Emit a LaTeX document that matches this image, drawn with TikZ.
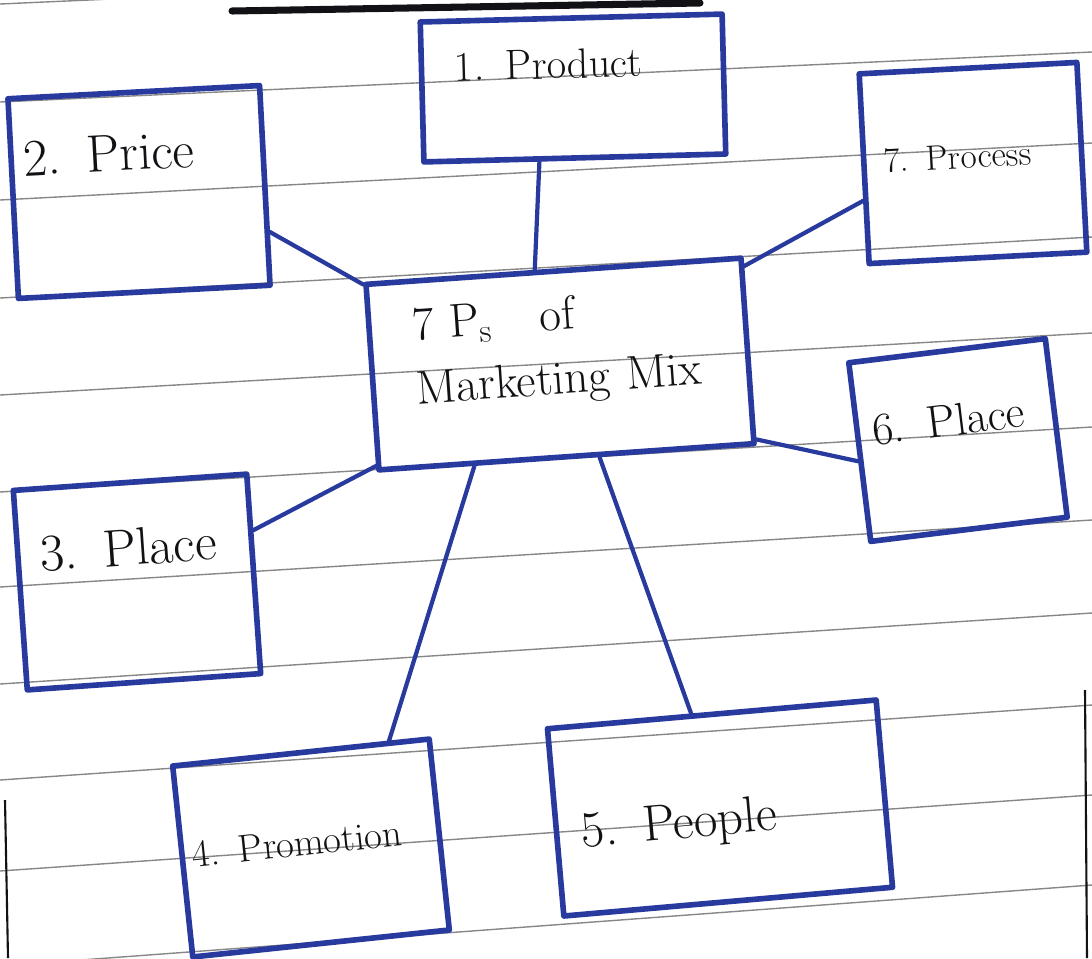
\documentclass[tikz,border=0pt]{standalone}
\usepackage{fontspec}
\definecolor{penblue}{RGB}{40,58,158}
\definecolor{inkblack}{RGB}{18,18,22}
\definecolor{rulegray}{RGB}{135,135,135}
\newcommand{\hw}[1]{\fontsize{#1}{1.35\dimexpr#1pt\relax}\selectfont}

\begin{document}
\begin{tikzpicture}[x=0.02cm,y=-0.02cm,
    box/.style={draw=penblue, line width=3.2pt, rectangle, align=left,
      inner ysep=0pt, text=inkblack, line join=round},
    link/.style={draw=penblue, line width=2.4pt, line cap=round},
    rule/.style={draw=rulegray, line width=0.8pt}]

  \useasboundingbox (0,0) rectangle (1092,958);
  \clip (0,0) rectangle (1092,958);

  % ruled paper
  \foreach \l/\r in {4/-45,102/52,200/143,298/237,395/333,492/427,
                     587/520,684/613,780/705,871/795,966/885}
    \draw[rule] (0,\l) -- (1092,\r);
  \draw[draw=inkblack, line width=1.2pt] (5,800) -- (8,958);
  \draw[draw=inkblack, line width=1.2pt] (1085,690) -- (1087,958);
  % heading underline
  \draw[draw=inkblack, line width=4pt, line cap=round] (232,11) -- (700,3);

  % the seven boxes
  \node[box, rotate=1.5, text width=4.72cm, inner xsep=0.66cm,
        text height=1.2cm, text depth=1.6cm, font=\hw{24}]
    (prod) at (573,88) {1. Product};
  \node[box, rotate=3, text width=4.56cm, inner xsep=0.24cm,
        text height=1.56cm, text depth=2.44cm, font=\hw{30}]
    (price) at (139,192) {2. Price};
  \node[box, rotate=3, text width=3.56cm, inner xsep=0.4cm,
        text height=2.0cm, text depth=1.8cm, font=\hw{20}]
    (proc) at (973,163) {7. Process};
  \node[box, rotate=4, text width=5.8cm, inner xsep=0.86cm,
        text height=1.18cm, text depth=2.54cm, font=\hw{27}]
    (mix) at (560,364) {7 P\textsubscript{s}\quad of\\Marketing Mix};
  \node[box, rotate=7, text width=3.36cm, inner xsep=0.3cm,
        text height=1.7cm, text depth=1.9cm, font=\hw{26}]
    (place6) at (958,440) {6. Place};
  \node[box, rotate=4, text width=3.8cm, inner xsep=0.44cm,
        text height=1.66cm, text depth=2.34cm, font=\hw{30}]
    (place3) at (137,582) {3. Place};
  \node[box, rotate=6, text width=4.76cm, inner xsep=0.2cm,
        text height=2.06cm, text depth=1.78cm, font=\hw{22}]
    (promo) at (311,848) {\mbox{4. Promotion}};
  \node[box, rotate=5, text width=5.6cm, inner xsep=0.5cm,
        text height=2.42cm, text depth=1.34cm, font=\hw{29}]
    (people) at (720,808) {5. People};

  % links to the centre
  \draw[link] (mix.101) -- (prod.244);
  \draw[link] (mix.154) -- (price.340);
  \draw[link] (mix.24) -- (proc.196);
  \draw[link] (mix.335) -- (place6.185);
  \draw[link] (mix.205) -- (place3.20);
  \draw[link] (mix.226) -- (promo.48);
  \draw[link] (mix.289) -- (people.102);
\end{tikzpicture}
\end{document}
